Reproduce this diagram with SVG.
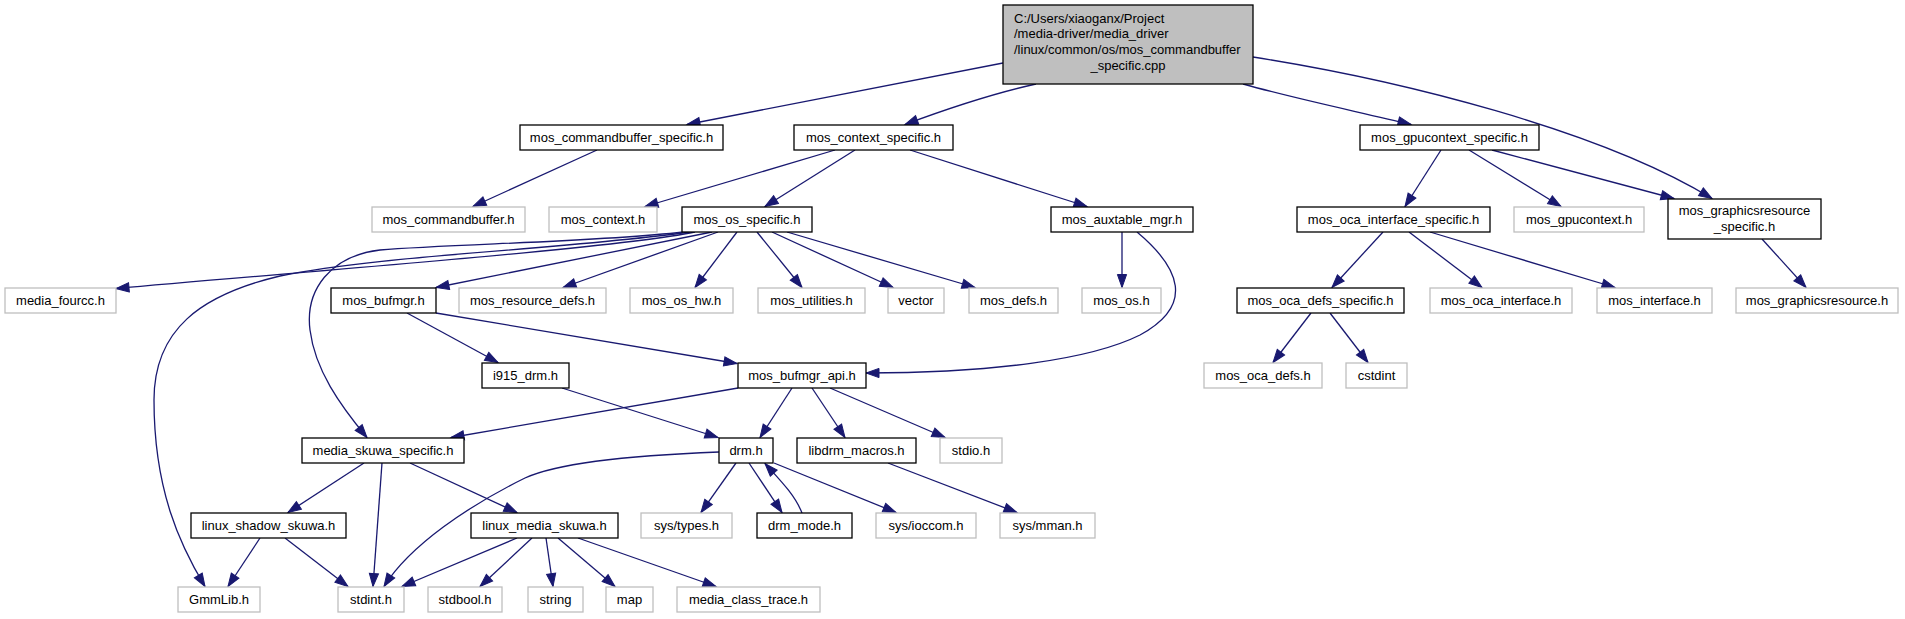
<svg xmlns="http://www.w3.org/2000/svg" width="1905" height="619" viewBox="0 0 1905 619">
<style>
.n{fill:#ffffff;stroke:#000000;stroke-width:1.3}
.u{fill:#ffffff;stroke:#bfbfbf;stroke-width:1.3}
.r{fill:#bfbfbf;stroke:#000000;stroke-width:1.3}
text{font-family:"Liberation Sans",Arial,sans-serif;font-size:13px;fill:#000000}
.c{text-anchor:middle}
.e path{fill:none;stroke:#191970;stroke-width:1.3;marker-end:url(#a)}
</style>
<defs>
<marker id="a" markerWidth="14" markerHeight="10" refX="13" refY="5" orient="auto" markerUnits="userSpaceOnUse" overflow="visible">
<path d="M0,0.4 L13,5 L0,9.6 z" fill="#191970" stroke="#191970" stroke-width="1"/>
</marker>
</defs>
<rect width="1905" height="619" fill="#ffffff"/>
<g class="e" id="edges">
<path d="M1003,63 L687,124.5"/>
<path d="M1036,84 C1000,92 960,104 905,124.5"/>
<path d="M1243,84 C1300,100 1360,112 1411,124.5"/>
<path d="M1253,57 C1400,80 1600,130 1712,198.5"/>
<path d="M597,150 L473,206.5"/>
<path d="M835,150 L645,206.5"/>
<path d="M855,150 L765,206.5"/>
<path d="M910,150 L1087,206.5"/>
<path d="M695,232 C620,248 300,272 116,288.5"/>
<path d="M690,232 C560,250 380,255 280,276 C200,295 154,330 154,400 C154,490 180,545 205,586.5"/>
<path d="M683,232 C600,242 450,244 380,250 C330,256 305,290 310,330 C315,370 340,405 367,437.5"/>
<path d="M712,232 L436,287.5"/>
<path d="M718,232 L563,287.5"/>
<path d="M737,232 L695,287.5"/>
<path d="M757,232 L802,287.5"/>
<path d="M772,232 L893,287.5"/>
<path d="M787,232 L975,287.5"/>
<path d="M1122,232 L1122,287.5"/>
<path d="M1137,232 C1180,268 1195,305 1140,335 C1090,360 990,373 866,373"/>
<path d="M407,313 L498,362.5"/>
<path d="M436,313 L737,363.5"/>
<path d="M562,388 L718,437.5"/>
<path d="M738,388 L451,437.5"/>
<path d="M792,388 L760,437.5"/>
<path d="M812,388 L845,437.5"/>
<path d="M830,388 L945,437.5"/>
<path d="M364,463 L288,512.5"/>
<path d="M382,463 L373,586.5"/>
<path d="M410,463 L517,512.5"/>
<path d="M719,452 C640,455 560,462 525,478 C470,505 410,545 384,586.5"/>
<path d="M736,463 L701,512.5"/>
<path d="M749,463 L782,512.5"/>
<path d="M802,513 C795,495 780,480 765,463.5"/>
<path d="M774,463 L896,512.5"/>
<path d="M888,463 L1017,512.5"/>
<path d="M260,538 L228,586.5"/>
<path d="M285,538 L348,586.5"/>
<path d="M517,538 L402,586.5"/>
<path d="M532,538 L480,586.5"/>
<path d="M546,538 L553,586.5"/>
<path d="M558,538 L615,586.5"/>
<path d="M578,538 L716,586.5"/>
<path d="M1441,150 L1405,206.5"/>
<path d="M1469,150 L1561,206.5"/>
<path d="M1492,150 L1674,198.5"/>
<path d="M1383,232 L1332,287.5"/>
<path d="M1409,232 L1482,287.5"/>
<path d="M1430,232 L1615,287.5"/>
<path d="M1311,313 L1273,362.5"/>
<path d="M1330,313 L1368,362.5"/>
<path d="M1762,239 L1806,287.5"/>
</g>
<g id="root"><rect class="r" x="1003" y="5" width="250" height="79"/>
<text x="1014" y="22.7">C:/Users/xiaoganx/Project</text>
<text x="1014" y="38.2">/media-driver/media_driver</text>
<text x="1014" y="53.7">/linux/common/os/mos_commandbuffer</text>
<text class="c" x="1128" y="69.5">_specific.cpp</text></g>
<g id="mos_commandbuffer_specific_h"><rect class="n" x="520" y="125" width="203" height="25"/><text class="c" x="621.5" y="141.5">mos_commandbuffer_specific.h</text></g>
<g id="mos_context_specific_h"><rect class="n" x="794" y="125" width="159" height="25"/><text class="c" x="873.5" y="141.5">mos_context_specific.h</text></g>
<g id="mos_gpucontext_specific_h"><rect class="n" x="1360" y="125" width="179" height="25"/><text class="c" x="1449.5" y="141.5">mos_gpucontext_specific.h</text></g>
<g id="mos_commandbuffer_h"><rect class="u" x="372" y="207" width="153" height="25"/><text class="c" x="448.5" y="223.5">mos_commandbuffer.h</text></g>
<g id="mos_context_h"><rect class="u" x="549" y="207" width="108" height="25"/><text class="c" x="603" y="223.5">mos_context.h</text></g>
<g id="mos_os_specific_h"><rect class="n" x="682" y="207" width="130" height="25"/><text class="c" x="747" y="223.5">mos_os_specific.h</text></g>
<g id="mos_auxtable_mgr_h"><rect class="n" x="1051" y="207" width="142" height="25"/><text class="c" x="1122" y="223.5">mos_auxtable_mgr.h</text></g>
<g id="mos_oca_interface_specific_h"><rect class="n" x="1297" y="207" width="193" height="25"/><text class="c" x="1393.5" y="223.5">mos_oca_interface_specific.h</text></g>
<g id="mos_gpucontext_h"><rect class="u" x="1514" y="207" width="130" height="25"/><text class="c" x="1579" y="223.5">mos_gpucontext.h</text></g>
<g id="mos_graphicsresource_specific_h"><rect class="n" x="1668" y="199" width="153" height="40"/><text class="c" x="1744.5" y="215">mos_graphicsresource</text><text class="c" x="1744.5" y="230.5">_specific.h</text></g>
<g id="media_fourcc_h"><rect class="u" x="5" y="288" width="111" height="25"/><text class="c" x="60.5" y="304.5">media_fourcc.h</text></g>
<g id="mos_bufmgr_h"><rect class="n" x="331" y="288" width="105" height="25"/><text class="c" x="383.5" y="304.5">mos_bufmgr.h</text></g>
<g id="mos_resource_defs_h"><rect class="u" x="459" y="288" width="147" height="25"/><text class="c" x="532.5" y="304.5">mos_resource_defs.h</text></g>
<g id="mos_os_hw_h"><rect class="u" x="630" y="288" width="103" height="25"/><text class="c" x="681.5" y="304.5">mos_os_hw.h</text></g>
<g id="mos_utilities_h"><rect class="u" x="758" y="288" width="107" height="25"/><text class="c" x="811.5" y="304.5">mos_utilities.h</text></g>
<g id="vector"><rect class="u" x="888" y="288" width="56" height="25"/><text class="c" x="916" y="304.5">vector</text></g>
<g id="mos_defs_h"><rect class="u" x="969" y="288" width="89" height="25"/><text class="c" x="1013.5" y="304.5">mos_defs.h</text></g>
<g id="mos_os_h"><rect class="u" x="1082" y="288" width="79" height="25"/><text class="c" x="1121.5" y="304.5">mos_os.h</text></g>
<g id="mos_oca_defs_specific_h"><rect class="n" x="1237" y="288" width="167" height="25"/><text class="c" x="1320.5" y="304.5">mos_oca_defs_specific.h</text></g>
<g id="mos_oca_interface_h"><rect class="u" x="1430" y="288" width="142" height="25"/><text class="c" x="1501" y="304.5">mos_oca_interface.h</text></g>
<g id="mos_interface_h"><rect class="u" x="1597" y="288" width="115" height="25"/><text class="c" x="1654.5" y="304.5">mos_interface.h</text></g>
<g id="mos_graphicsresource_h"><rect class="u" x="1736" y="288" width="162" height="25"/><text class="c" x="1817" y="304.5">mos_graphicsresource.h</text></g>
<g id="i915_drm_h"><rect class="n" x="482" y="363" width="87" height="25"/><text class="c" x="525.5" y="379.5">i915_drm.h</text></g>
<g id="mos_bufmgr_api_h"><rect class="n" x="738" y="363" width="128" height="25"/><text class="c" x="802" y="379.5">mos_bufmgr_api.h</text></g>
<g id="mos_oca_defs_h"><rect class="u" x="1204" y="363" width="118" height="25"/><text class="c" x="1263" y="379.5">mos_oca_defs.h</text></g>
<g id="cstdint"><rect class="u" x="1346" y="363" width="61" height="25"/><text class="c" x="1376.5" y="379.5">cstdint</text></g>
<g id="media_skuwa_specific_h"><rect class="n" x="302" y="438" width="162" height="25"/><text class="c" x="383" y="454.5">media_skuwa_specific.h</text></g>
<g id="drm_h"><rect class="n" x="719" y="438" width="54" height="25"/><text class="c" x="746" y="454.5">drm.h</text></g>
<g id="libdrm_macros_h"><rect class="n" x="797" y="438" width="119" height="25"/><text class="c" x="856.5" y="454.5">libdrm_macros.h</text></g>
<g id="stdio_h"><rect class="u" x="940" y="438" width="62" height="25"/><text class="c" x="971" y="454.5">stdio.h</text></g>
<g id="linux_shadow_skuwa_h"><rect class="n" x="191" y="513" width="155" height="25"/><text class="c" x="268.5" y="529.5">linux_shadow_skuwa.h</text></g>
<g id="linux_media_skuwa_h"><rect class="n" x="471" y="513" width="147" height="25"/><text class="c" x="544.5" y="529.5">linux_media_skuwa.h</text></g>
<g id="sys_types_h"><rect class="u" x="641" y="513" width="91" height="25"/><text class="c" x="686.5" y="529.5">sys/types.h</text></g>
<g id="drm_mode_h"><rect class="n" x="757" y="513" width="95" height="25"/><text class="c" x="804.5" y="529.5">drm_mode.h</text></g>
<g id="sys_ioccom_h"><rect class="u" x="876" y="513" width="100" height="25"/><text class="c" x="926" y="529.5">sys/ioccom.h</text></g>
<g id="sys_mman_h"><rect class="u" x="1000" y="513" width="95" height="25"/><text class="c" x="1047.5" y="529.5">sys/mman.h</text></g>
<g id="GmmLib_h"><rect class="u" x="178" y="587" width="82" height="25"/><text class="c" x="219" y="603.5">GmmLib.h</text></g>
<g id="stdint_h"><rect class="u" x="338" y="587" width="66" height="25"/><text class="c" x="371" y="603.5">stdint.h</text></g>
<g id="stdbool_h"><rect class="u" x="428" y="587" width="74" height="25"/><text class="c" x="465" y="603.5">stdbool.h</text></g>
<g id="string"><rect class="u" x="528" y="587" width="55" height="25"/><text class="c" x="555.5" y="603.5">string</text></g>
<g id="map"><rect class="u" x="606" y="587" width="47" height="25"/><text class="c" x="629.5" y="603.5">map</text></g>
<g id="media_class_trace_h"><rect class="u" x="677" y="587" width="143" height="25"/><text class="c" x="748.5" y="603.5">media_class_trace.h</text></g>
</svg>
